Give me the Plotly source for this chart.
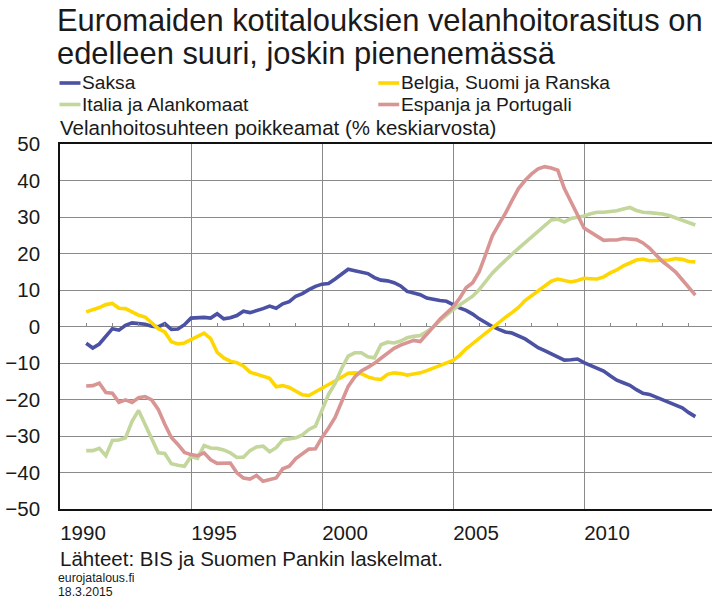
import plotly.graph_objects as go

# ---------------- data ----------------
quarters = [1991 + 0.25 * i for i in range(94)]  # 1991Q1 ... 2014Q2

saksa = [
    -4.6, -5.9, -4.8, -2.8, -0.6, -1.0, 0.3, 1.0, 0.9, 0.6, 0.1, -0.1,
    0.8, -0.8, -0.7, 0.5, 2.3, 2.5, 2.5, 2.3, 3.5, 2.1, 2.4, 3.0,
    4.2, 3.8, 4.3, 4.9, 5.6, 5.0, 6.2, 6.8, 8.3, 9.0, 10.1, 11.0,
    11.6, 11.8, 13.0, 14.5, 15.7, 15.3, 15.0, 14.5, 13.4, 12.7, 12.5, 12.0,
    11.1, 9.6, 9.2, 8.7, 7.8, 7.4, 7.1, 6.9, 5.9, 5.1, 4.4, 3.4,
    2.1, 1.0, 0.0, -0.8, -1.5, -1.8, -2.5, -3.4, -4.6, -5.8, -6.6, -7.4,
    -8.3, -9.2, -9.1, -8.9, -9.9, -10.6, -11.3, -12.2, -13.5, -14.7, -15.4, -16.1,
    -17.3, -18.3, -18.6, -19.3, -20.1, -20.7, -21.4, -22.3, -23.6, -24.7,
]

belgia_suomi_ranska = [
    4.0, 4.5, 5.2, 6.0, 6.3, 5.0, 4.9, 4.0, 3.1, 2.6, 1.1, -0.6,
    -1.5, -4.2, -4.8, -4.5, -3.6, -2.6, -1.8, -3.3, -7.1, -8.6, -9.5, -9.9,
    -10.8, -12.5, -13.1, -13.5, -14.2, -16.5, -16.2, -16.7, -17.6, -18.7, -18.9, -17.9,
    -17.0, -16.1, -15.1, -13.9, -12.8, -12.7, -12.9, -13.8, -14.3, -14.5, -13.1, -12.7,
    -12.9, -13.3, -13.0, -12.7, -12.1, -11.4, -10.6, -10.0, -9.3, -7.9, -6.1, -4.7,
    -3.2, -1.8, -0.4, 1.0, 2.5, 3.8, 5.2, 7.1, 8.4, 9.5, 11.0, 12.4,
    13.0, 12.5, 12.2, 12.6, 13.2, 13.1, 13.0, 13.6, 14.7, 15.5, 16.6, 17.4,
    18.2, 18.5, 18.0, 18.1, 18.2, 18.2, 18.6, 18.4, 17.8, 17.7,
]

italia_alankomaat = [
    -34.0, -34.0, -33.4, -35.4, -31.2, -31.1, -30.5, -26.0, -23.0, -27.0, -31.0, -34.6,
    -34.8, -37.6, -38.0, -38.3, -35.6, -36.1, -32.6, -33.3, -33.4, -33.8, -34.6, -35.9,
    -35.8, -34.0, -33.0, -32.8, -34.3, -33.2, -31.1, -30.9, -30.5, -29.7, -28.2, -27.3,
    -23.0, -18.6, -15.6, -11.5, -8.1, -7.2, -7.2, -8.3, -8.6, -5.0, -4.3, -4.5,
    -4.0, -3.1, -2.7, -2.5, -1.4, -0.1, 1.6, 3.2, 4.6, 5.9, 7.0, 8.3,
    10.1, 12.4, 14.6, 16.4, 18.2, 19.8, 21.4, 23.0, 24.7, 26.3, 27.8, 29.2,
    29.4, 28.6, 29.6, 29.9, 30.3, 30.9, 31.3, 31.3, 31.4, 31.7, 32.2, 32.6,
    31.8, 31.3, 31.2, 31.1, 30.8, 30.4, 29.8, 29.2, 28.6, 27.8,
]

espanja_portugali = [
    -16.3, -16.2, -15.5, -18.1, -18.3, -20.8, -20.1, -20.8, -19.5, -19.2, -20.1, -22.7,
    -26.8, -30.4, -32.3, -34.5, -35.1, -35.4, -34.6, -36.5, -37.5, -37.4, -37.4, -40.1,
    -41.5, -41.8, -40.8, -42.4, -42.0, -41.5, -39.0, -38.3, -36.2, -34.8, -33.6, -33.5,
    -30.4, -27.8, -24.9, -20.6, -16.4, -13.8, -12.2, -11.2, -10.1, -8.7, -7.2, -6.0,
    -5.1, -4.5, -3.8, -4.1, -2.2, -0.1, 2.0, 3.8, 5.3, 7.7, 10.6, 12.0,
    15.0, 19.8, 24.8, 28.0, 31.0, 34.5, 37.8, 40.0, 41.8, 43.2, 43.8, 43.4,
    42.8, 37.8, 34.0, 30.6, 27.0, 25.8, 24.6, 23.6, 23.7, 23.7, 24.1, 24.0,
    23.8, 22.9, 21.5, 19.6, 17.8, 16.4, 14.9, 12.8, 10.6, 8.6,
]

series_names = ["Saksa", "Belgia, Suomi ja Ranska", "Italia ja Alankomaat", "Espanja ja Portugali"]
series_colors = ["#4B51A3", "#FFD700", "#C3D69B", "#D99594"]

year_ticks = [1990, 1995, 2000, 2005, 2010]
year_labels = ["1990", "1995", "2000", "2005", "2010"]
y_ticks = [50, 40, 30, 20, 10, 0, -10, -20, -30, -40, -50]

title_lines = ["Euromaiden kotitalouksien velanhoitorasitus on", "edelleen suuri, joskin pienenemässä"]
subtitle = "Velanhoitosuhteen poikkeamat (% keskiarvosta)"
source = "Lähteet: BIS ja Suomen Pankin laskelmat."
site = "eurojatalous.fi"
date = "18.3.2015"

# ---------------- layout geometry ----------------
W, H = 712, 600
L, R, T, B = 59.5, 712, 144, 509
FONT = "Liberation Sans, Arial, sans-serif"
TXT = "#1a1a1a"


def px_x(px):
    return (px - L) / (R - L)


def px_y(py):
    return (B - py) / (B - T)


fig = go.Figure()
all_values = [saksa, belgia_suomi_ranska, italia_alankomaat, espanja_portugali]
for i, (name, vals, col) in enumerate(zip(series_names, all_values, series_colors)):
    fig.add_trace(go.Scatter(
        x=quarters, y=vals, name=name, mode="lines",
        line=dict(color=col, width=3.6),
        xaxis="x2" if i == 3 else "x",
        showlegend=False,
    ))

x_range = [1990, 1990 + (R - L) / 26.22]

fig.update_layout(
    width=W, height=H,
    margin=dict(l=L, r=W - R, t=T, b=H - B, pad=0),
    paper_bgcolor="white", plot_bgcolor="white",
    font=dict(family=FONT, size=20.5, color=TXT),
    xaxis=dict(
        range=x_range, tickmode="array", tickvals=year_ticks, ticktext=year_labels,
        showgrid=True, gridcolor="#8a8a8a", gridwidth=1,
        showline=True, linecolor="#111111", linewidth=1.6, mirror=True,
        ticks="", ticklabelshift=23, ticklabelstandoff=5,
        tickfont=dict(size=20.5, color=TXT), zeroline=False, automargin=False,
    ),
    xaxis2=dict(
        range=x_range, overlaying="x", anchor="free", position=0.5, side="bottom",
        tickmode="linear", tick0=1990, dtick=1, ticks="inside", ticklen=4,
        tickwidth=1, tickcolor="#8a8a8a", showticklabels=False,
        showgrid=False, showline=False, zeroline=False,
    ),
    yaxis=dict(
        range=[-50, 50], tickmode="array", tickvals=y_ticks,
        showgrid=True, gridcolor="#8a8a8a", gridwidth=1,
        showline=True, linecolor="#111111", linewidth=1.6,
        ticks="", ticklabelstandoff=14, zeroline=False, automargin=False,
        tickfont=dict(size=20.5, color=TXT),
    ),
)

annotations = []
annotations.append(dict(text=title_lines[0], x=px_x(55), y=px_y(20), font=dict(size=30.9)))
annotations.append(dict(text=title_lines[1], x=px_x(55), y=px_y(54), font=dict(size=30.9)))
annotations.append(dict(text=subtitle, x=px_x(58), y=px_y(128), font=dict(size=20.5)))
annotations.append(dict(text=source, x=px_x(58), y=px_y(558), font=dict(size=20.5)))
annotations.append(dict(text=site, x=px_x(56), y=px_y(578), font=dict(size=12.3)))
annotations.append(dict(text=date, x=px_x(56), y=px_y(592), font=dict(size=12.3)))

# hand-made two-column legend
leg_pos = [(59, 83), (378, 83), (59, 104.5), (378, 104.5)]
shapes = []
for (lx, ly), name, col in zip(leg_pos, series_names, series_colors):
    shapes.append(dict(type="line", xref="paper", yref="paper",
                       x0=px_x(lx), x1=px_x(lx + 21), y0=px_y(ly), y1=px_y(ly),
                       line=dict(color=col, width=3.6)))
    annotations.append(dict(text=name, x=px_x(lx + 22), y=px_y(ly), font=dict(size=19.2)))

for a in annotations:
    a.update(xref="paper", yref="paper", xanchor="left", yanchor="middle",
             showarrow=False, borderpad=0)
    a["font"].update(family=FONT, color=TXT)

fig.update_layout(annotations=annotations, shapes=shapes)

fig.write_html(
    "out.html",
    config={"displayModeBar": False},
    post_script="document.body.style.margin='0px';document.body.style.overflow='hidden';",
)
